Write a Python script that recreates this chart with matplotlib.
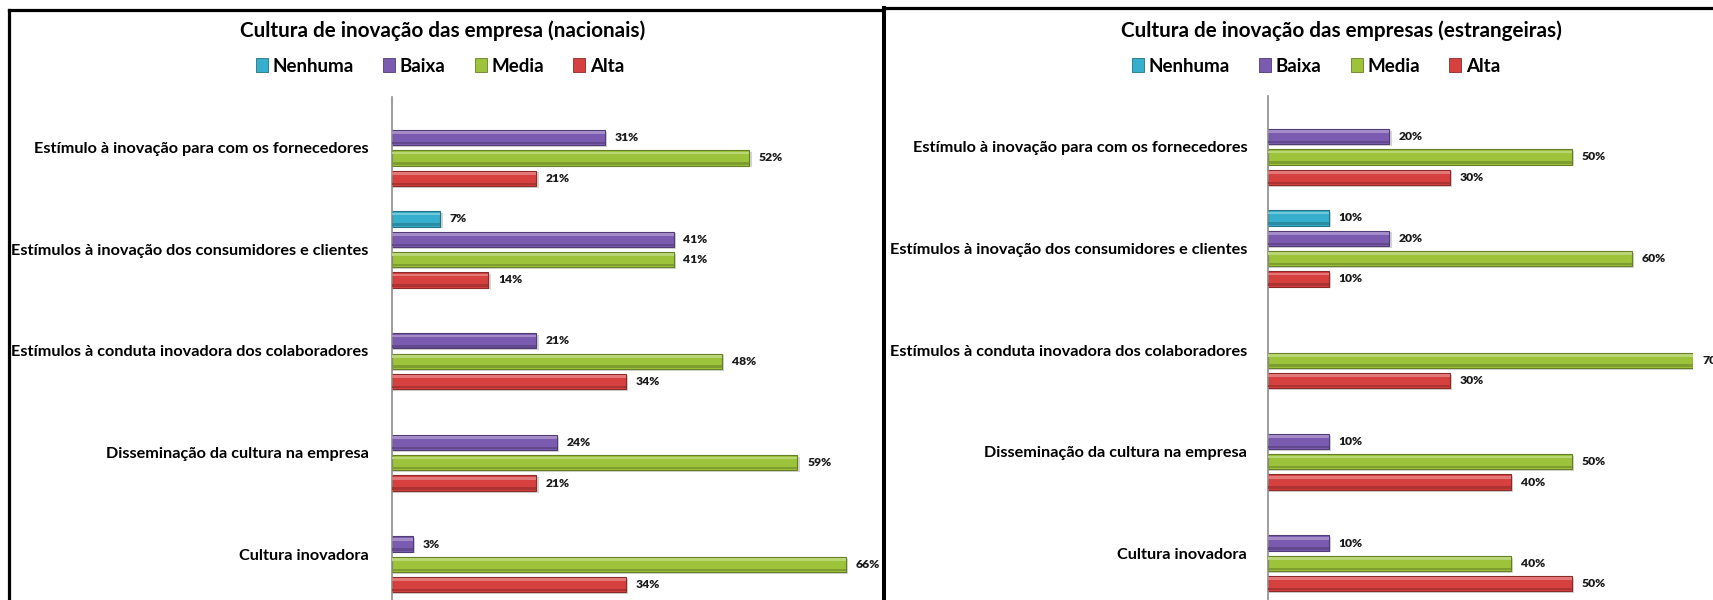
import numpy as np
import matplotlib
matplotlib.use("Agg")
from matplotlib import pyplot as plt
from matplotlib.lines import Line2D
from matplotlib.patches import Patch
from matplotlib import colors as mcolors

plt.rcParams['font.family'] = ['Lato', 'DejaVu Sans']

categories = [
    "Estímulo à inovação para com os fornecedores",
    "Estímulos à inovação dos consumidores e clientes",
    "Estímulos à conduta inovadora dos colaboradores",
    "Disseminação da cultura na empresa",
    "Cultura inovadora",
]
series_names = ["Nenhuma", "Baixa", "Media", "Alta"]
series_colors = ["#35AFCB", "#7B5BB0", "#9DC33B", "#D6403E"]

# percentages, None where the answer had no responses
nacionais_nenhuma = [None, 7, None, None, None]
nacionais_baixa = [31, 41, 21, 24, 3]
nacionais_media = [52, 41, 48, 59, 66]
nacionais_alta = [21, 14, 34, 21, 34]

estrangeiras_nenhuma = [None, 10, None, None, None]
estrangeiras_baixa = [20, 20, None, 10, 10]
estrangeiras_media = [50, 60, 70, 50, 40]
estrangeiras_alta = [30, 10, 30, 40, 50]

W, H = 1713, 600
fig = plt.figure(figsize=(W / 100, H / 100), dpi=100)


def shade(color, amount):
    r, g, b = mcolors.to_rgb(color)
    if amount > 0:
        return (r + (1 - r) * amount, g + (1 - g) * amount, b + (1 - b) * amount)
    return (r * (1 + amount), g * (1 + amount), b * (1 + amount))


def draw_panel(ax, series, label_pad):
    ypos = np.arange(len(categories))
    slot = 0.2
    h = 0.15
    for i, (vals, col) in enumerate(zip(series, series_colors)):
        offs = (i - 1.5) * slot
        for y, v in zip(ypos, vals):
            if v is None:
                continue
            yy = y + offs
            # soft drop shadow
            ax.barh(yy + 0.018, v + 0.35, height=h, color="#d4d4d4", linewidth=0, zorder=1)
            ax.barh(yy, v, height=h, color=col, edgecolor=shade(col, -0.35),
                    linewidth=0.8, zorder=2)
            # bevel: light top strip and darker bottom strip
            ax.barh(yy - h * 0.32, v, height=h * 0.18, color=shade(col, 0.3),
                    linewidth=0, zorder=3)
            ax.barh(yy + h * 0.36, v, height=h * 0.16, color=shade(col, -0.2),
                    linewidth=0, zorder=3)
            ax.annotate(f"{v}%", (v, yy), xytext=(7, 0), textcoords="offset points",
                        ha="left", va="center", fontsize=8.7, fontweight="heavy",
                        color="#1a1a1a", annotation_clip=False)
    ax.set_xlim(0, 70)
    ax.set_ylim(len(categories) - 0.5, -0.5)
    ax.set_yticks(ypos)
    ax.set_yticklabels(categories, fontsize=11.7, fontweight="bold")
    ax.tick_params(axis="y", length=0, pad=label_pad)
    ax.set_xticks([])
    for s in ["top", "right", "bottom"]:
        ax.spines[s].set_visible(False)
    ax.spines["left"].set_color("#8c8c8c")
    ax.spines["left"].set_linewidth(1.2)


def px_axes(x0, x1, ytop, ybot):
    return fig.add_axes([x0 / W, 1 - ybot / H, (x1 - x0) / W, (ybot - ytop) / H])


ax1 = px_axes(392, 873, 97, 605)
draw_panel(ax1, [nacionais_nenhuma, nacionais_baixa, nacionais_media, nacionais_alta], 17)

ax2 = px_axes(1268, 1693, 96, 604)
draw_panel(ax2, [estrangeiras_nenhuma, estrangeiras_baixa, estrangeiras_media, estrangeiras_alta], 15)

fig.text(443 / W, 1 - 31 / H, "Cultura de inovação das empresa (nacionais)",
         ha="center", va="center", fontsize=14.9, fontweight="bold")
fig.text(1341 / W, 1 - 31 / H, "Cultura de inovação das empresas (estrangeiras)",
         ha="center", va="center", fontsize=14.9, fontweight="bold")

handles = [Patch(facecolor=c, edgecolor=shade(c, -0.35), linewidth=0.6) for c in series_colors]
for cx in (440, 1316):
    fig.legend(handles, series_names, loc="center", bbox_to_anchor=(cx / W, 1 - 66 / H),
               ncol=4, frameon=False, handlelength=0.65, handleheight=0.8,
               handletextpad=0.25, columnspacing=1.55,
               prop={"weight": "bold", "size": 13.5})

# panel frames
lw = 2.3
fig.add_artist(Line2D([9 / W, 9 / W], [1 - 10 / H, -0.05], color="black", lw=lw))
fig.add_artist(Line2D([9 / W, 884 / W], [1 - 10 / H, 1 - 10 / H], color="black", lw=lw))
fig.add_artist(Line2D([884 / W, 884 / W], [1 - 8 / H, -0.05], color="black", lw=lw + 0.6))
fig.add_artist(Line2D([884 / W, 1.05], [1 - 8 / H, 1 - 8 / H], color="black", lw=lw))

fig.savefig("out.png", dpi=100, facecolor="white")
